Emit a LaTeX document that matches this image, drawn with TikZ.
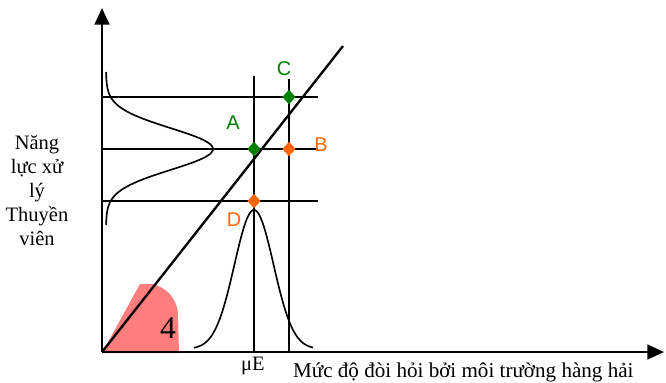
\documentclass[tikz,border=0pt]{standalone}
\usepackage{fontspec}
\setmainfont{Liberation Serif}
\newfontfamily\labelfont{Liberation Sans}
\usetikzlibrary{arrows.meta,shapes.geometric}
\definecolor{ptgreen}{RGB}{0,128,0}
\definecolor{ptorange}{RGB}{255,102,0}
\definecolor{riskred}{RGB}{255,125,125}

\begin{document}
\begin{tikzpicture}[x=0.3mm, y=-0.3mm,
    axis/.style={line width=2.2pt, -{Triangle[length=5mm, width=4.4mm]}},
    grid/.style={line width=1.6pt},
    curve/.style={line width=1.4pt},
    gpoint/.style={diamond, fill=ptgreen, inner sep=0pt, minimum width=4mm, minimum height=4.4mm},
    opoint/.style={diamond, fill=ptorange, inner sep=0pt, minimum width=4mm, minimum height=4.4mm},
    plabel/.style={font=\labelfont\fontsize{17}{20}\selectfont},
    txt/.style={font=\fontsize{17.5}{20.5}\selectfont}]
\useasboundingbox (0,0) rectangle (666,382);
% risk area
\fill[riskred] (102,353) -- (140,284) -- (152,284)
  .. controls (166,287) and (177,298) .. (178,314) -- (179,353) -- cycle;
\node[font=\fontsize{27}{30}\selectfont] (four) at (168,328) {4};
% axes
\coordinate (O) at (102,352);
\coordinate (ytip) at (102,8);
\coordinate (xtip) at (664,352);
\draw[axis] (O) -- (ytip);
\draw[axis] (O) -- (xtip);
% grid lines
\coordinate (h1l) at (102,97);  \coordinate (h1r) at (318,97);
\coordinate (h2l) at (102,149); \coordinate (h2r) at (318,149);
\coordinate (h3l) at (102,201); \coordinate (h3r) at (318,201);
\coordinate (v1t) at (254,76);  \coordinate (v1b) at (254,352);
\coordinate (v2t) at (289,79);  \coordinate (v2b) at (289,352);
\draw[grid] (h1l) -- (h1r);
\draw[grid] (h2l) -- (h2r);
\draw[grid] (h3l) -- (h3r);
\draw[grid] (v1t) -- (v1b);
\draw[grid] (v2t) -- (v2b);
% demand line
\coordinate (dend) at (343,46);
\draw[line width=2pt] (O) -- (dend);
% distributions
\draw[curve] plot[domain=72:225, samples=100, smooth]
  ({106+107*exp(-((\x-149)*(\x-149))/864)}, \x);
\draw[curve] plot[domain=194:313, samples=100, smooth]
  (\x, {349-139*exp(-((\x-254)*(\x-254))/766)});
% points
\node[gpoint] (A) at (254,149) {};
\node[gpoint] (C) at (289,97) {};
\node[opoint] (B) at (289,149) {};
\node[opoint] (D) at (254,201) {};
\node[plabel, text=ptgreen] (lblA) at (233,123) {A};
\node[plabel, text=ptgreen] (lblC) at (284,69) {C};
\node[plabel, text=ptorange] (lblB) at (321,145) {B};
\node[plabel, text=ptorange] (lblD) at (234,220) {D};
% axis texts
\node[txt, align=center] (ylbl) at (37,191) {Năng\\lực xử\\lý\\Thuyền\\viên};
\node[txt, anchor=base] (mu) at (253,370) {μE};
\node[txt, anchor=base west, font=\fontsize{18}{21}\selectfont] (xlbl) at (289,377) {Mức độ đòi hỏi bởi môi trường hàng hải};
\end{tikzpicture}
\end{document}
